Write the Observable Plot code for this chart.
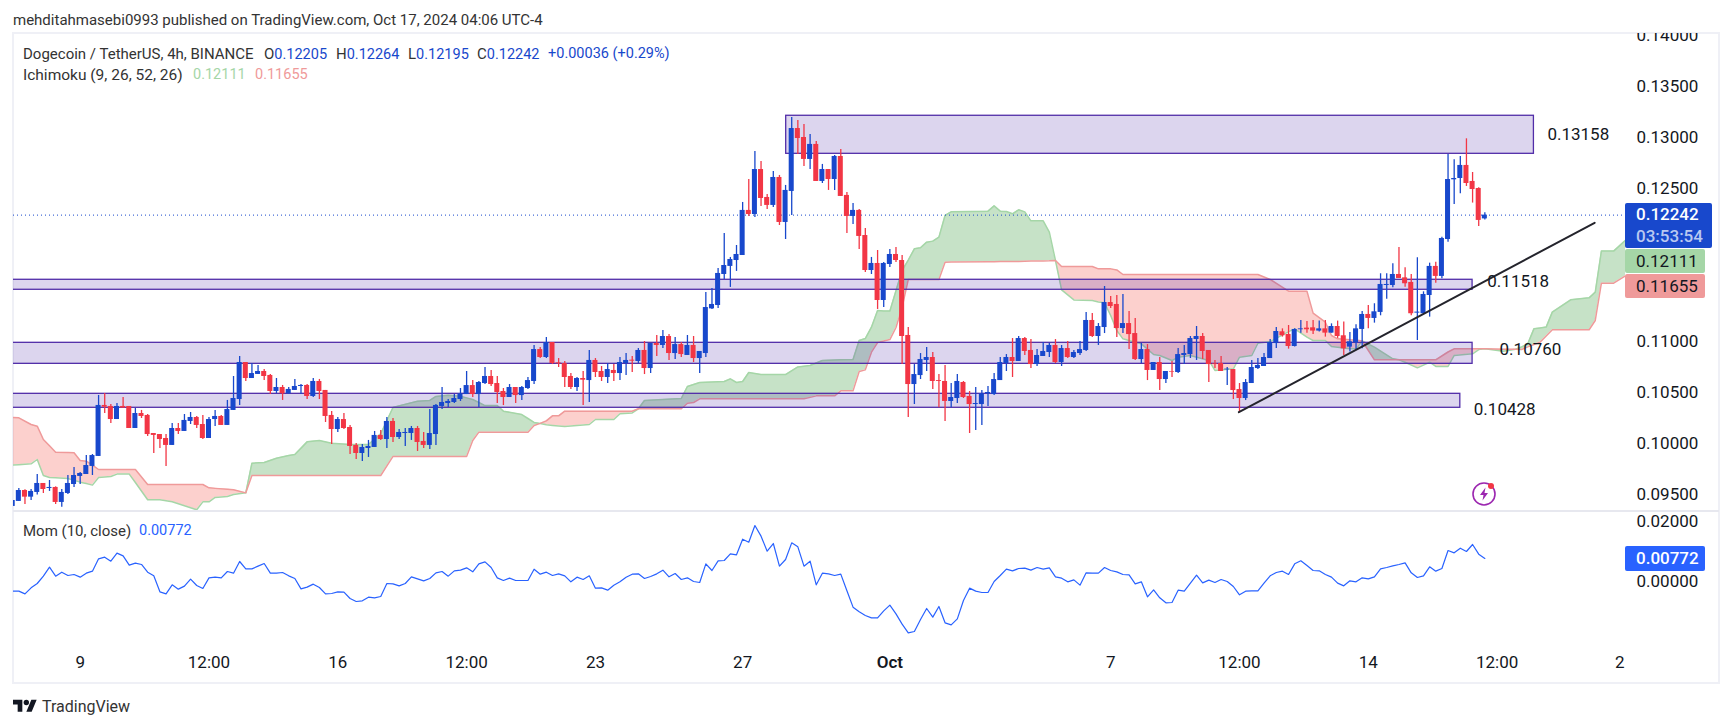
<!DOCTYPE html>
<html><head><meta charset="utf-8">
<script src="https://cdn.jsdelivr.net/npm/d3@7"></script>
<script src="https://cdn.jsdelivr.net/npm/@observablehq/plot@0.6"></script>
<style>
html,body{margin:0;padding:0;background:#fff;width:1732px;height:728px;overflow:hidden;font-family:Roboto,sans-serif;color:#131722}
.t{position:absolute;white-space:nowrap;font-size:15px;line-height:18px;color:#333}
.v{font-size:14.5px}
.b{color:#1848cc}
.box{position:absolute;text-align:left;font-size:17px;border-radius:2px;box-sizing:border-box;padding-left:11px}
#frame{position:absolute;left:12px;top:32px;width:1708px;height:652px;border:2px solid #eff0f6;box-sizing:border-box}
#sep{position:absolute;left:13px;top:510px;width:1706px;height:2px;background:#e7e8ef}
#main,#mom{position:absolute;left:0}
#main{top:33px}#mom{top:512px}
</style></head><body>
<div class="t" style="left:13px;top:11px">mehditahmasebi0993 published on TradingView.com, Oct 17, 2024 04:06 UTC-4</div>
<div id="frame"></div>
<div id="main"></div>
<div id="sep"></div>
<div id="mom"></div>
<div class="t" style="left:23px;top:45px">Dogecoin / TetherUS, 4h, BINANCE</div>
<div class="t" style="left:264px;top:45px">O<span class="b v">0.12205</span></div>
<div class="t" style="left:336px;top:45px">H<span class="b v">0.12264</span></div>
<div class="t" style="left:408px;top:45px">L<span class="b v">0.12195</span></div>
<div class="t" style="left:477px;top:45px">C<span class="b v">0.12242</span></div>
<div class="t b" style="left:548px;top:45px;font-size:14.5px">+0.00036 (+0.29%)</div>
<div class="t" style="left:23px;top:66px;font-size:15.5px">Ichimoku (9, 26, 52, 26)</div>
<div class="t v" style="left:193px;top:66px;color:#a5d6a7">0.12111</div>
<div class="t v" style="left:255px;top:66px;color:#ef9a9a">0.11655</div>
<div class="t" style="left:23px;top:522px">Mom (10, close)</div>
<div class="t v" style="left:139px;top:522px;color:#2962ff">0.00772</div>
<div class="box" style="left:1625px;top:203px;width:87px;height:45px;background:#1848cc;color:#fff;line-height:22px;font-weight:500">0.12242<br><span style="color:#b9c8f1">03:53:54</span></div>
<div class="box" style="left:1625px;top:249px;width:80px;height:24px;background:#a5d6a7;line-height:24px">0.12111</div>
<div class="box" style="left:1625px;top:274px;width:80px;height:24px;background:#ef9a9a;line-height:24px">0.11655</div>
<div class="box" style="left:1625px;top:546px;width:80px;height:25px;background:#2962ff;color:#fff;line-height:25px;font-weight:500">0.00772</div>
<svg style="position:absolute;left:1471px;top:481px" width="26" height="26" viewBox="0 0 26 26"><circle cx="13" cy="13" r="11" fill="none" stroke="#9c27b0" stroke-width="1.6"/><path d="M14.5 6.5 9 14h3.5l-1 5.5 5.5-7.5h-3.5z" fill="#9c27b0"/><circle cx="20" cy="5" r="3" fill="#f23645"/></svg>
<svg style="position:absolute;left:13px;top:697px" width="24" height="19" viewBox="0 0 36 28"><path d="M14 22H7V11H0V4h14v18zM28 22h-8l7.5-18h8L28 22z" fill="#131722"/><circle cx="20" cy="8" r="4" fill="#131722"/></svg>
<div class="t" style="left:42px;top:698px;font-size:16px">TradingView</div>
<script>
// Prices in units of 0.00001, one entry per 4h bar
const open=[9386,9435,9542,9477,9523,9611,9562,9572,9425,9513,
9601,9680,9699,9778,9876,10376,10366,10238,10366,10366,
10150,10297,10278,10101,10091,10052,9984,10150,10121,10219,
10258,10189,10052,10238,10268,10180,10327,10434,10797,10640,
10680,10709,10670,10513,10552,10490,10523,10562,10572,10464,
10611,10523,10278,10140,10238,10160,9984,9905,9954,9964,
10082,10042,10219,10062,10101,10101,10150,10023,9984,10091,
10366,10395,10405,10434,10483,10571,10483,10591,10660,10591,
10513,10454,10552,10473,10542,10611,10924,10846,10993,10794,
10787,10660,10552,10640,10620,10817,10709,10650,10719,10689,
10787,10820,10807,10915,10738,10983,10964,11052,10885,10973,
10866,10964,10836,10885,11323,11356,11660,11739,11797,11846,
12288,12248,12689,12415,12337,12611,12170,12474,13091,13003,
12788,12935,12572,12689,12591,12817,12435,12229,12288,12042,
11699,11768,11405,11758,11856,11797,11062,10581,10669,10817,
10846,10620,10611,10415,10444,10601,10464,10385,10385,10490,
10483,10620,10787,10846,10807,11032,10915,10777,10856,10895,
10964,10797,10934,10846,10885,10915,11209,11052,11140,11385,
11366,11130,11179,11081,10826,10924,10719,10797,10630,10705,
10699,10866,10875,11022,11052,10915,10784,10787,10725,10728,
10532,10444,10591,10738,10758,10836,10983,11098,11072,10954,
11118,11134,11137,11105,11127,11085,11150,11059,10948,10990,
11121,11268,11229,11288,11552,11552,11660,11627,11582,11281,
11275,11454,11739,11641,12003,12588,12601,12729,12572,12503,
12205];
const high=[9444,9562,9549,9552,9699,9611,9640,9578,9552,9689,
9768,9719,9885,9895,10474,10493,10386,10395,10454,10366,
10346,10327,10287,10101,10091,10091,10199,10199,10287,10307,
10268,10278,10258,10327,10278,10425,10660,10856,10797,10787,
10768,10729,10680,10640,10572,10552,10631,10582,10582,10640,
10631,10523,10317,10258,10297,10180,10003,9993,10033,10121,
10131,10258,10248,10140,10150,10170,10170,10111,10336,10386,
10552,10434,10483,10542,10709,10620,10611,10748,10719,10660,
10542,10581,10552,10562,10650,10964,10944,11042,10993,10836,
10807,10689,10650,10709,10915,10836,10758,10787,10777,10846,
10885,10856,10934,11003,10983,11062,11111,11071,11042,10993,
11062,11052,10905,11483,11523,11719,12062,11827,11944,12366,
12591,12866,12768,12444,12670,12631,12533,13199,13170,13131,
13033,12964,12739,12689,12827,12886,12464,12356,12297,12111,
11827,11895,11778,11905,11925,11846,11140,10777,10885,10944,
10895,10679,10768,10591,10679,10611,10513,10552,10522,10562,
10689,10846,10875,11032,11052,11042,11022,10924,10993,10983,
11022,10964,11003,10915,11003,11287,11277,11179,11542,11444,
11454,11464,11297,11228,10983,10973,10797,10846,10709,10807,
10934,10964,11052,11150,11081,10915,10817,10856,10748,10728,
10591,10630,10817,10836,10885,11022,11140,11127,11160,11127,
11209,11199,11209,11203,11209,11176,11203,11193,11092,11167,
11297,11356,11373,11667,11667,11765,11925,11725,11660,11824,
11490,11771,11781,12026,12837,12784,12817,12990,12660,12510,
12264];
const low=[9386,9435,9405,9444,9497,9513,9533,9405,9379,9503,
9572,9601,9699,9689,9876,10297,10199,10238,10350,10150,
10150,10248,10072,9905,9954,9778,9984,10091,10121,10189,
10150,10042,10052,10170,10180,10180,10327,10376,10611,10640,
10680,10621,10484,10493,10425,10484,10523,10484,10434,10454,
10434,10209,9993,10111,10140,9895,9846,9827,9866,9964,
10033,9954,10013,10042,9974,10033,9925,9954,9944,9984,
10336,10356,10395,10415,10483,10454,10356,10581,10562,10395,
10375,10454,10395,10424,10532,10581,10836,10836,10777,10748,
10552,10532,10513,10375,10405,10650,10611,10591,10611,10620,
10669,10699,10787,10679,10689,10856,10934,10817,10826,10846,
10866,10797,10689,10846,11317,11327,11611,11533,11690,11846,
12229,12219,12327,12297,12317,12140,12003,12239,12837,12719,
12689,12572,12552,12484,12484,12425,12062,12150,11905,11680,
11660,11317,11337,11729,11778,10777,10258,10385,10630,10709,
10532,10353,10219,10353,10395,10444,10101,10130,10179,10366,
10473,10620,10709,10650,10807,10866,10738,10758,10856,10846,
10787,10758,10836,10836,10866,10905,11042,10964,11081,11326,
11042,11081,10924,10817,10787,10620,10719,10522,10591,10650,
10689,10777,10836,10817,10826,10601,10738,10709,10571,10434,
10307,10424,10591,10728,10758,10836,10934,11046,10928,10948,
11085,11085,11072,11095,11046,11085,11033,10866,10899,10922,
10931,11127,11183,11255,11418,11529,11621,11536,11255,11013,
11268,11242,11575,11618,11977,12346,12451,12523,12360,12131,
12195];
const close=[9444,9542,9477,9533,9611,9552,9572,9425,9523,9611,
9689,9709,9787,9885,10376,10359,10238,10366,10350,10150,
10297,10268,10091,10082,10042,9984,10150,10121,10229,10258,
10180,10052,10238,10268,10180,10336,10444,10797,10640,10689,
10709,10660,10513,10552,10490,10533,10562,10572,10464,10611,
10513,10268,10140,10238,10150,9974,9905,9964,9974,10082,
10042,10219,10062,10111,10111,10150,10013,9984,10101,10376,
10405,10415,10444,10490,10571,10483,10601,10660,10581,10503,
10454,10552,10473,10552,10620,10924,10846,10993,10787,10784,
10650,10552,10640,10624,10817,10699,10650,10728,10689,10797,
10817,10810,10915,10738,10983,10964,11052,10885,10973,10875,
10964,10836,10905,11336,11366,11670,11748,11807,11856,12288,
12248,12689,12405,12337,12611,12170,12484,13091,12993,12788,
12935,12572,12689,12591,12817,12425,12229,12288,12033,11699,
11768,11405,11768,11856,11797,11052,10581,10679,10826,10846,
10611,10611,10415,10454,10611,10454,10385,10395,10490,10503,
10630,10797,10846,10807,11032,10905,10777,10866,10905,10964,
10797,10934,10846,10895,10924,11209,11052,11150,11385,11346,
11130,11179,11071,10826,10924,10719,10797,10630,10709,10699,
10875,10885,11032,11052,10905,10777,10777,10709,10732,10522,
10444,10601,10748,10768,10846,10993,11101,11059,10954,11121,
11127,11118,11105,11127,11085,11150,11052,10931,11000,11127,
11268,11229,11294,11562,11562,11660,11621,11569,11275,11291,
11464,11739,11641,12013,12591,12601,12729,12552,12493,12190,
12242];
// Ichimoku spans read at their visible corners: bar index, span A, span B
const cloudBar=[0,1,3,4,5,6,7,9,10,11,12,13,14,16,17,19,20,22,24,26,30,31,32,33,35,36,38,39,41,43,45,46,48,50,52,55,58,60,62,63,66,68,69,71,73,74,75,76,77,79,80,83,84,85,86,87,88,89,90,94,95,98,99,101,102,103,109,110,111,112,116,117,118,119,120,122,126,128,129,130,131,132,134,135,137,138,139,140,141,142,143,144,145,146,147,148,149,150,151,152,153,159,160,161,162,163,164,165,166,168,169,170,171,173,176,177,178,179,180,181,183,184,186,187,189,190,192,195,196,199,200,202,203,205,208,209,211,212,214,215,216,218,219,220,222,225,226,227,229,231,232,234,235,238,239,240,243,245,246,247,248,249,250,251,254,257,258,259,261,263,266];
const spanA=[9791,9795,9804,9846,9689,9670,9667,9660,9642,9624,9610,9595,9670,9680,9703,9703,9620,9451,9451,9431,9353,9431,9431,9474,9484,9503,9519,9810,9817,9859,9885,9895,10019,10033,10006,9993,9993,10098,10356,10372,10418,10425,10464,10477,10467,10450,10434,10405,10375,10375,10320,10287,10248,10209,10200,10186,10180,10175,10170,10189,10238,10238,10294,10303,10343,10424,10444,10562,10582,10601,10611,10637,10601,10611,10699,10679,10679,10754,10761,10768,10792,10817,10821,10823,10826,11013,11032,11143,11307,11301,11301,11500,11699,11800,11912,11922,11977,11987,12026,12239,12274,12281,12333,12281,12278,12255,12294,12274,12186,12186,12075,11797,11509,11411,11405,11390,11382,11258,11111,11029,10996,10980,10875,10866,10817,10849,10866,10817,10719,10735,10849,10866,10986,11003,11100,11127,11045,11013,11013,10954,10946,10931,10931,11008,10947,10833,10823,10800,10745,10800,10758,10758,10866,10882,10924,10931,10908,10928,10950,10980,11127,11135,11144,11291,11412,11431,11487,11889,11889,12000,12111];
const spanB=[10258,10255,10189,10173,10042,9980,9918,9914,9912,9836,9830,9790,9748,9748,9748,9748,9748,9601,9601,9601,9601,9601,9568,9563,9554,9549,9519,9689,9689,9689,9689,9689,9689,9689,9689,9689,9689,9689,9876,9876,9876,9876,9876,9876,9876,9876,10032,10114,10114,10114,10114,10114,10114,10179,10200,10225,10274,10274,10320,10320,10320,10320,10320,10320,10343,10343,10343,10398,10405,10441,10441,10441,10441,10441,10441,10441,10441,10441,10441,10455,10470,10470,10470,10519,10519,10709,10725,10898,10993,11007,11022,11140,11340,11611,11611,11611,11611,11611,11611,11781,11782,11785,11786,11787,11787,11788,11788,11790,11791,11793,11794,11797,11738,11738,11738,11715,11715,11715,11705,11660,11660,11660,11660,11660,11660,11660,11660,11660,11660,11660,11660,11660,11660,11611,11496,11496,11496,11281,11192,11062,11029,11020,11017,11008,10823,10823,10823,10823,10823,10823,10823,10900,10931,10931,10931,10931,10928,10928,10925,10950,10973,10997,11057,11118,11118,11118,11209,11575,11575,11650,11655];
// Momentum (10, close), units of 0.00001, one entry per bar
const momentum=[-309,-309,-397,-199,-56,186,483,186,318,208,241,153,285,351,758,813,681,945,857,549,615,571,318,197,-331,-397,-100,-243,-144,87,-122,-221,131,153,131,340,285,670,428,428,516,604,285,285,307,197,109,-232,-177,-78,-188,-397,-386,-331,-342,-551,-650,-628,-507,-529,-485,-56,-67,-133,-56,164,98,32,109,296,340,186,362,384,461,329,593,659,472,131,43,120,43,43,43,417,252,318,208,263,197,-1,153,76,197,-210,-199,-276,-111,-1,153,252,263,109,175,263,384,164,274,76,131,10,-23,593,373,692,703,923,890,1407,1308,1858,1506,1011,1264,516,736,1286,1154,516,681,-100,285,263,208,252,-298,-837,-991,-1112,-1189,-1189,-958,-771,-1057,-1398,-1684,-1640,-1244,-881,-1167,-815,-1354,-1420,-1222,-617,-210,-309,-353,-353,10,208,417,362,439,450,384,472,417,461,164,120,-1,65,-111,296,285,285,472,373,329,241,230,-67,-1,-496,-265,-529,-694,-683,-276,-309,-45,219,-34,54,-23,76,10,-155,-430,-309,-298,-298,-45,197,307,351,241,593,692,538,373,362,241,153,-45,-133,32,-1,131,98,164,428,472,527,571,626,296,142,197,494,351,439,1033,956,1110,1000,1231,912,772];
// Horizontal zones: start bar, end bar, top and bottom price
const zoneStart=[126.1,0,0,0];
const zoneEnd=[248,238,238,236];
const zoneTop=[13216,11608,10990,10490];
const zoneBottom=[12843,11510,10784,10353];
// Text notes beside the zones
const noteText=["0.13158","0.11518","0.10760","0.10428"];
const noteBar=[250.2,240.4,242.4,238.2];
const notePrice=[13032,11594,10924,10336];
// Hand-drawn trend line
const trendBar=[199.9,257.9];
const trendPrice=[10310,12167];
const lastPrice=12242;
// Axes
const axisPriceTicks=[0.095,0.10,0.105,0.11,0.125,0.13,0.135,0.14];
const momTicks=[0,0.02];
const timeBars=[11,32,53,74,95,119,179,200,221,242,262];
const timeLabels=["9","12:00","16","12:00","23","27","7","12:00","14","12:00","2"];
const octBar=[143];

const P=v=>v/1e5;
const candles=open.map((o,i)=>({i,o:P(o),h:P(high[i]),l:P(low[i]),c:P(close[i])}));
const up=candles.filter(d=>d.c>=d.o), down=candles.filter(d=>d.c<d.o);
const cloud=cloudBar.map((i,k)=>({i,a:P(spanA[k]),b:P(spanB[k])}));
const zones=zoneStart.map((s,k)=>({s,e:zoneEnd[k],t:P(zoneTop[k]),b:P(zoneBottom[k])}));
const notes=noteText.map((t,k)=>({t,x:noteBar[k],y:P(notePrice[k])}));
const trend=trendBar.map((x,k)=>({x,y:P(trendPrice[k])}));
const mom=momentum.map((m,i)=>({i,m:P(m)}));

const BLUE="#1848cc",RED="#f23645",INK="#131722",FONT="Roboto, sans-serif";
const xDomain=[0.13,262.93], xRange=[13,1625];
const W=0.41;
const candleMarks=(rows,color)=>[
  Plot.ruleX(rows,{x:"i",y1:"l",y2:"h",stroke:color,strokeWidth:1.3,clip:true}),
  Plot.rect(rows,{x1:d=>d.i-W,x2:d=>d.i+W,y1:"o",y2:"c",fill:color,clip:true})
];
const main=Plot.plot({
  width:1732,height:478,marginTop:1,marginBottom:1,marginLeft:13,marginRight:107,
  style:{fontFamily:FONT,background:"transparent"},
  x:{domain:xDomain,range:xRange,axis:null},
  y:{domain:[0.095,0.14],range:[461.3,2.3],axis:null},
  marks:[
    Plot.areaY(cloud,{x:"i",y1:"b",y2:d=>Math.max(d.a,d.b),fill:"#43a047",fillOpacity:0.3,clip:true}),
    Plot.areaY(cloud,{x:"i",y1:"b",y2:d=>Math.min(d.a,d.b),fill:"#f44336",fillOpacity:0.25,clip:true}),
    Plot.line(cloud,{x:"i",y:"a",stroke:"#a5d6a7",strokeWidth:1.5,clip:true}),
    Plot.line(cloud,{x:"i",y:"b",stroke:"#ef9a9a",strokeWidth:1.5,clip:true}),
    Plot.rect(zones,{x1:"s",x2:"e",y1:"b",y2:"t",fill:"#512da8",fillOpacity:0.2,stroke:"#512da8",strokeWidth:1.3,clip:true}),
    Plot.ruleY([P(lastPrice)],{stroke:BLUE,strokeWidth:1,strokeDasharray:"1 3",clip:true}),
    ...candleMarks(down,RED),
    ...candleMarks(up,BLUE),
    Plot.line(trend,{x:"x",y:"y",stroke:"#24242c",strokeWidth:2}),
    Plot.text(notes,{x:"x",y:"y",text:"t",textAnchor:"start",fontSize:17,fill:INK}),
    Plot.axisY({anchor:"right",ticks:axisPriceTicks,tickSize:0,tickPadding:11,tickFormat:d=>d.toFixed(5),fontSize:17,label:null,fill:INK})
  ]
});
document.getElementById("main").append(main);
const momPlot=Plot.plot({
  width:1732,height:171,marginTop:1,marginBottom:36,marginLeft:13,marginRight:107,
  style:{fontFamily:FONT,background:"transparent"},
  x:{domain:xDomain,range:xRange,axis:null},
  y:{domain:[0,0.02],range:[69.3,8.7],axis:null},
  marks:[
    Plot.line(mom,{x:"i",y:"m",stroke:"#2962ff",strokeWidth:1.2,clip:true}),
    Plot.axisY({anchor:"right",ticks:momTicks,tickSize:0,tickPadding:11,tickFormat:d=>d.toFixed(5),fontSize:17,label:null,fill:INK}),
    Plot.axisX({ticks:timeBars,tickSize:0,tickPadding:8,tickFormat:d=>timeLabels[timeBars.indexOf(d)],fontSize:17,label:null,fill:INK}),
    Plot.axisX({ticks:octBar,tickSize:0,tickPadding:8,tickFormat:()=>"Oct",fontSize:17,fontWeight:600,label:null,fill:INK})
  ]
});
document.getElementById("mom").append(momPlot);
</script>
</body></html>
